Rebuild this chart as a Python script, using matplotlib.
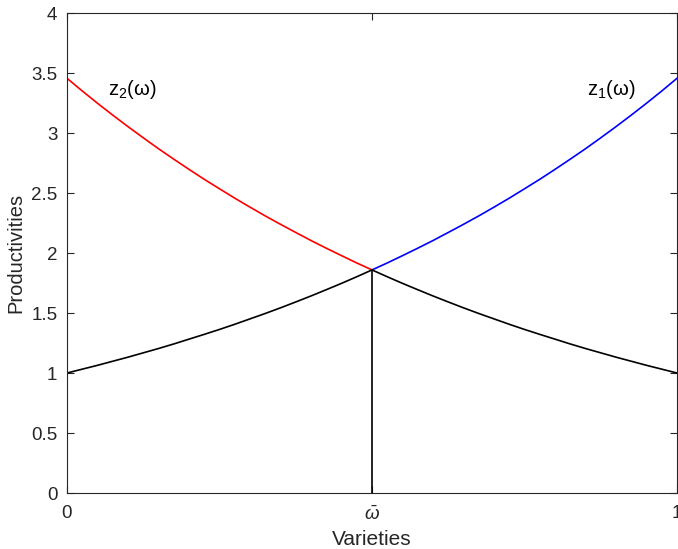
import matplotlib
matplotlib.use("Agg")
import matplotlib.pyplot as plt
import numpy as np

plt.rcParams['font.family'] = ['Liberation Sans', 'DejaVu Sans']
plt.rcParams['mathtext.fontset'] = 'custom'
plt.rcParams['mathtext.rm'] = 'Liberation Sans'
plt.rcParams['mathtext.it'] = 'Liberation Sans:italic'

# Varieties on the unit interval
omega = [0.000, 0.025, 0.050, 0.075, 0.100, 0.125, 0.150, 0.175, 0.200, 0.225,
         0.250, 0.275, 0.300, 0.325, 0.350, 0.375, 0.400, 0.425, 0.450, 0.475,
         0.500, 0.525, 0.550, 0.575, 0.600, 0.625, 0.650, 0.675, 0.700, 0.725,
         0.750, 0.775, 0.800, 0.825, 0.850, 0.875, 0.900, 0.925, 0.950, 0.975,
         1.000]
# Productivity of country 1 across varieties
z1 = [1.000, 1.032, 1.064, 1.098, 1.132, 1.168, 1.204, 1.242, 1.282, 1.322,
      1.363, 1.406, 1.451, 1.496, 1.543, 1.592, 1.642, 1.694, 1.747, 1.802,
      1.859, 1.917, 1.978, 2.040, 2.104, 2.171, 2.239, 2.309, 2.382, 2.457,
      2.535, 2.614, 2.697, 2.782, 2.869, 2.960, 3.053, 3.149, 3.248, 3.350,
      3.456]
# Productivity of country 2 across varieties
z2 = [3.456, 3.350, 3.248, 3.149, 3.053, 2.960, 2.869, 2.782, 2.697, 2.614,
      2.535, 2.457, 2.382, 2.309, 2.239, 2.171, 2.104, 2.040, 1.978, 1.917,
      1.859, 1.802, 1.747, 1.694, 1.642, 1.592, 1.543, 1.496, 1.451, 1.406,
      1.363, 1.322, 1.282, 1.242, 1.204, 1.168, 1.132, 1.098, 1.064, 1.032,
      1.000]
omega_bar = 0.500
z_bar = 1.859

x_ticks = [0, omega_bar, 1]
x_tick_labels = ['0', r'$\bar{\omega}$', '1']
y_ticks = [0, 0.5, 1, 1.5, 2, 2.5, 3, 3.5, 4]
y_tick_labels = ['0', '0.5', '1', '1.5', '2', '2.5', '3', '3.5', '4']

omega = np.array(omega)
z1 = np.array(z1)
z2 = np.array(z2)
left = omega <= omega_bar
right = omega >= omega_bar

fig = plt.figure(figsize=(6.78, 5.49), dpi=100)
ax = fig.add_axes([67 / 678, 56 / 549, 610 / 678, 480 / 549])

lw = 1.2
ax.plot(omega[left], z2[left], color=(1, 0, 0), lw=lw)
ax.plot(omega[right], z1[right], color=(0, 0, 1), lw=lw)
ax.plot(omega[left], z1[left], color='black', lw=lw)
ax.plot(omega[right], z2[right], color='black', lw=lw)
ax.plot([omega_bar, omega_bar], [0, z_bar], color='black', lw=lw)

ax.text(0.067, 3.36, r'z$_2$(ω)', fontsize=14.5, va='center', ha='left')
ax.text(0.853, 3.36, r'z$_1$(ω)', fontsize=14.5, va='center', ha='left')

ax.set_xlim(0, 1)
ax.set_ylim(0, 4)
ax.set_xticks(x_ticks)
ax.set_xticklabels(x_tick_labels)
ax.set_yticks(y_ticks)
ax.set_yticklabels(y_tick_labels)

axis_color = (0.15, 0.15, 0.15)
for s in ax.spines.values():
    s.set_color(axis_color)
    s.set_linewidth(0.8)
ax.tick_params(direction='in', length=5, width=0.8, colors=axis_color,
               labelsize=13.5, top=True, right=True, labeltop=False, labelright=False)
ax.tick_params(axis='x', pad=9)
ax.tick_params(axis='y', pad=7)
ax.set_xlabel('Varieties', fontsize=15, color=axis_color, labelpad=4.5)
ax.set_ylabel('Productivities', fontsize=14.5, color=axis_color, labelpad=4)

fig.savefig('out.png', dpi=100)
